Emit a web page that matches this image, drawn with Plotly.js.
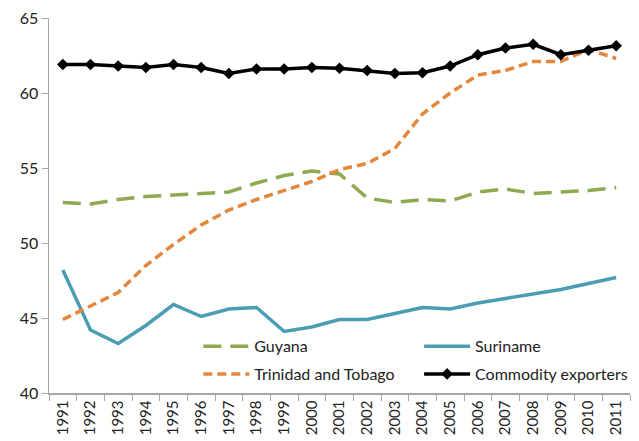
<!DOCTYPE html>
<html><head><meta charset="utf-8">
<script src="https://cdn.plot.ly/plotly-3.0.1.min.js"></script>
<style>body{margin:0;padding:0;background:#fff}#chart{width:639px;height:441px}</style>
</head><body><div id="chart"></div>
<script>
const years = ["1991","1992","1993","1994","1995","1996","1997","1998","1999","2000","2001","2002","2003","2004","2005","2006","2007","2008","2009","2010","2011"];
const guyana = [52.7,52.6,52.9,53.1,53.2,53.3,53.4,54.0,54.5,54.8,54.6,53.0,52.7,52.9,52.8,53.4,53.6,53.3,53.4,53.5,53.7];
const suriname = [48.2,44.2,43.3,44.5,45.9,45.1,45.6,45.7,44.1,44.4,44.9,44.9,45.3,45.7,45.6,46.0,46.3,46.6,46.9,47.3,47.7];
const trinidad = [44.9,45.8,46.7,48.5,49.9,51.2,52.2,52.9,53.5,54.1,54.9,55.3,56.3,58.6,60.0,61.2,61.5,62.1,62.1,62.9,62.3];
const commodity = [61.9,61.9,61.8,61.7,61.9,61.7,61.3,61.6,61.6,61.7,61.65,61.5,61.3,61.35,61.8,62.55,63.0,63.25,62.55,62.85,63.15];

const traces = [
  {x: years, y: guyana, name: "Guyana", legend: "legend", legendgroup: "g1", mode: "lines", line: {color: "#8DAA4E", width: 3.5, dash: "18px,9px"}},
  {x: years, y: suriname, name: "Suriname", legend: "legend2", legendgroup: "g2", mode: "lines", line: {color: "#4A9DB3", width: 3.5}},
  {x: years, y: trinidad, name: "Trinidad and Tobago", legend: "legend", legendgroup: "g3", mode: "lines", line: {color: "#E3873C", width: 3.5, dash: "9px,5px"}},
  {x: years, y: commodity, name: "Commodity exporters", legend: "legend2", legendgroup: "g4", mode: "lines+markers", line: {color: "#000000", width: 3.5}, marker: {symbol: "diamond", size: 9, color: "#000000"}}
];
const legBase = {orientation: "v", xanchor: "left", yanchor: "top", bgcolor: "rgba(0,0,0,0)", font: {size: 16, color: "#222"}, tracegroupgap: 4, itemwidth: 46};
const layout = {
  width: 639, height: 441,
  margin: {l: 49, r: 6, t: 18, b: 48},
  paper_bgcolor: "#fff", plot_bgcolor: "#fff",
  font: {family: "Lato, 'Open Sans', sans-serif", color: "#222", size: 14},
  showlegend: true,
  legend: Object.assign({}, legBase, {x: 0.257, y: 0.17}),
  legend2: Object.assign({}, legBase, {x: 0.637, y: 0.17}),
  xaxis: {type: "category", tickangle: -90, showgrid: false, showline: true, linecolor: "#A6A6A6", linewidth: 1.5, ticks: "outside", tickson: "boundaries", ticklen: 6, tickcolor: "#A6A6A6", tickfont: {size: 15}, zeroline: false, range: [-0.5, 20.5]},
  yaxis: {range: [40, 65], dtick: 5, tick0: 40, showgrid: false, showline: true, linecolor: "#A6A6A6", linewidth: 1.5, ticks: "outside", ticklen: 6, tickcolor: "#A6A6A6", tickfont: {size: 16}, zeroline: false}
};
Plotly.newPlot("chart", traces, layout, {displayModeBar: false, staticPlot: true});
</script></body></html>
